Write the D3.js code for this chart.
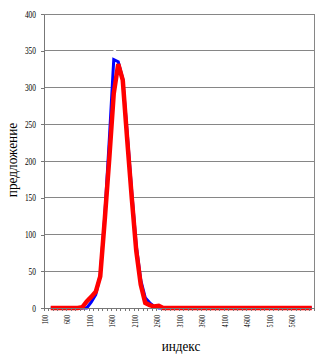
<!DOCTYPE html>
<html>
<head>
<meta charset="utf-8">
<script src="https://cdn.jsdelivr.net/npm/d3@7"></script>
<style>
  html, body { margin: 0; padding: 0; background: #fff; }
  svg { display: block; }
</style>
</head>
<body>
<svg id="chart" width="325" height="356"></svg>
<script>
// Categories of the index axis (step 100)
const categories = [
  "100","200","300","400","500","600","700","800","900","1000",
  "1100","1200","1300","1400","1500","1600","1700","1800","1900","2000",
  "2100","2200","2300","2400","2500","2600","2700","2800","2900","3000",
  "3100","3200","3300","3400","3500","3600","3700","3800","3900","4000",
  "4100","4200","4300","4400","4500","4600","4700","4800","4900","5000",
  "5100","5200","5300","5400","5500","5600","5700","5800","5900","6000"
];

// Supply values, blue series
const blueValues = [
  null, 0, 0, 0, 0, 0, 0, 0, 0, 0,
  8, 18, 45, 125, 228, 338, 335, 312, 238, 158,
  85, 38, 14, 7, 2, 0, 0, 0, 0, 0,
  0, 0, 0, 0, 0, 0, 0, 0, 0, 0,
  0, 0, 0, 0, 0, 0, 0, 0, 0, 0,
  0, 0, 0, 0, 0, 0, 0, 0, 0, 0
];

// Supply values, red series
const redValues = [
  null, 0, 0, 0, 0, 0, 0, 0, 1, 9,
  15, 22, 43, 120, 203, 292, 332, 310, 228, 150,
  78, 32, 7, 4, 2, 3, 0, 0, 0, 0,
  0, 0, 0, 0, 0, 0, 0, 0, 0, 0,
  0, 0, 0, 0, 0, 0, 0, 0, 0, 0,
  0, 0, 0, 0, 0, 0, 0, 0, 0, 0
];

// White backing area under the peak
const shadeValues = [
  0, 0, 0, 0, 0, 0, 0, 0, 0, 0,
  0, 0, 40, 120, 262, 356, 345, 300, 228, 150,
  78, 30, 0, 0, 0, 0, 0, 0, 0, 0,
  0, 0, 0, 0, 0, 0, 0, 0, 0, 0,
  0, 0, 0, 0, 0, 0, 0, 0, 0, 0,
  0, 0, 0, 0, 0, 0, 0, 0, 0, 0
];

const yTicks = [0, 50, 100, 150, 200, 250, 300, 350, 400];
const xTickLabels = ["100","600","1100","1600","2100","2600","3100","3600","4100","4600","5100","5600"];

const yTitle = "предложение";
const xTitle = "индекс";

const plotLeft = 44, plotRight = 314, plotTop = 14, plotBottom = 308;
const gridColor = "#868686";
const fontFamily = "'Liberation Serif', 'Times New Roman', serif";

const svg = d3.select("#chart");

const x = d3.scaleBand().domain(categories).range([plotLeft, plotRight]).padding(0);
const cx = c => x(c) + x.bandwidth() / 2;
const y = d3.scaleLinear().domain([0, 400]).range([plotBottom, plotTop]);

// Horizontal gridlines
svg.append("g")
  .selectAll("line")
  .data(yTicks.filter(t => t > 0))
  .join("line")
  .attr("x1", plotLeft).attr("x2", plotRight)
  .attr("y1", d => y(d)).attr("y2", d => y(d))
  .attr("stroke", gridColor)
  .attr("stroke-width", 1)
  .attr("shape-rendering", "crispEdges");

// Right border of the plot area
svg.append("line")
  .attr("x1", plotRight).attr("x2", plotRight)
  .attr("y1", plotTop).attr("y2", plotBottom)
  .attr("stroke", gridColor)
  .attr("shape-rendering", "crispEdges");

// White backing under the peak
const area = d3.area()
  .x((d, i) => cx(categories[i]))
  .y0(y(0))
  .y1(d => y(d));
svg.append("path")
  .datum(shadeValues)
  .attr("d", area)
  .attr("fill", "#fff");

// Series lines
const line = d3.line()
  .defined(d => d !== null)
  .x((d, i) => cx(categories[i]))
  .y(d => y(d));

svg.append("path")
  .datum(blueValues)
  .attr("d", line)
  .attr("fill", "none")
  .attr("stroke", "#0000ff")
  .attr("stroke-width", 3)
  .attr("stroke-linejoin", "miter");

svg.append("path")
  .datum(redValues)
  .attr("d", line)
  .attr("fill", "none")
  .attr("stroke", "#ff0000")
  .attr("stroke-width", 4.5)
  .attr("stroke-linejoin", "miter");

// Y axis
const yAxis = svg.append("g")
  .attr("transform", `translate(${plotLeft},0)`)
  .call(d3.axisLeft(y).tickValues(yTicks).tickSize(3).tickSizeOuter(0));
yAxis.select(".domain").attr("stroke", "#777").attr("shape-rendering", "crispEdges");
yAxis.selectAll(".tick line").attr("stroke", "#777").attr("shape-rendering", "crispEdges");
yAxis.selectAll(".tick text")
  .attr("x", null)
  .attr("transform", "translate(-8,0) scale(0.78,1)")
  .attr("text-anchor", "end")
  .attr("font-family", fontFamily)
  .attr("font-size", "9.5px")
  .attr("fill", "#000");

// X axis line
svg.append("line")
  .attr("x1", plotLeft).attr("x2", plotRight)
  .attr("y1", plotBottom).attr("y2", plotBottom)
  .attr("stroke", "#777")
  .attr("shape-rendering", "crispEdges");

// X tick marks at category boundaries
svg.append("g")
  .selectAll("line")
  .data(categories.concat([null]))
  .join("line")
  .attr("x1", d => d === null ? plotRight : x(d))
  .attr("x2", d => d === null ? plotRight : x(d))
  .attr("y1", plotBottom).attr("y2", plotBottom + 3)
  .attr("stroke", "#777")
  .attr("shape-rendering", "crispEdges");

// X tick labels, rotated
svg.append("g")
  .selectAll("text")
  .data(xTickLabels)
  .join("text")
  .attr("transform", d => `translate(${cx(d) + 1.3},${plotBottom + 7}) rotate(-90) scale(0.73,1)`)
  .attr("text-anchor", "end")
  .attr("font-family", fontFamily)
  .attr("font-size", "8.5px")
  .attr("fill", "#000")
  .text(d => d);

// Axis titles
svg.append("text")
  .attr("transform", "translate(17,160) rotate(-90) scale(0.89,1)")
  .attr("text-anchor", "middle")
  .attr("font-family", fontFamily)
  .attr("font-size", "15px")
  .attr("fill", "#000")
  .text(yTitle);

svg.append("text")
  .attr("transform", "translate(181,350.5) scale(0.88,1)")
  .attr("text-anchor", "middle")
  .attr("font-family", fontFamily)
  .attr("font-size", "15px")
  .attr("fill", "#000")
  .text(xTitle);
</script>
</body>
</html>
